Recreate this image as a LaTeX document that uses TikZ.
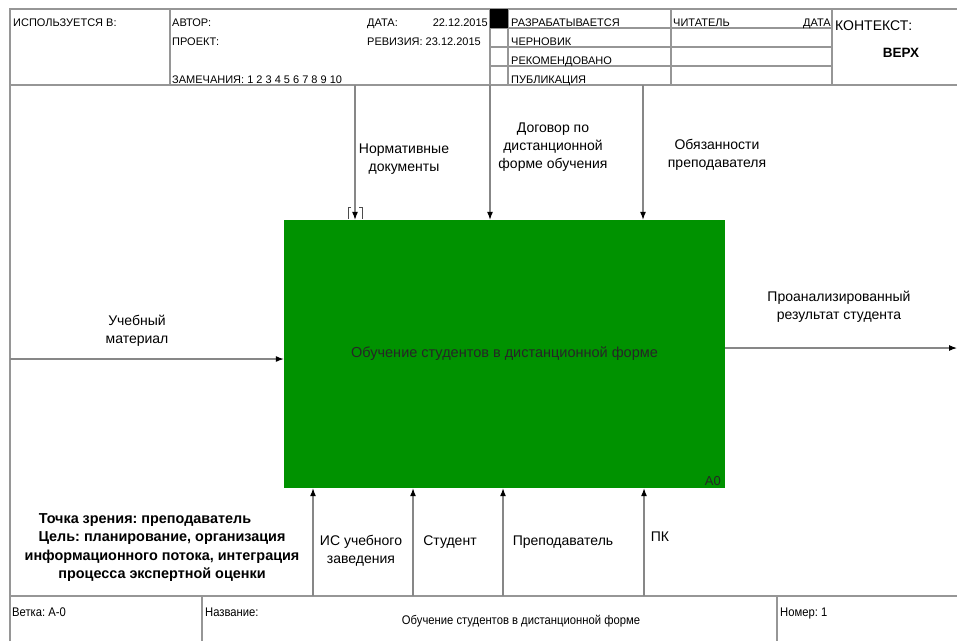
\documentclass[tikz,border=0pt]{standalone}
\usepackage{fontspec}
\setmainfont{Liberation Sans}
\newfontfamily\narrowfont[FakeStretch=0.9]{Liberation Sans}
\usetikzlibrary{arrows.meta}

\definecolor{idefgreen}{RGB}{0,146,0}
\definecolor{framegray}{RGB}{150,150,150}
\definecolor{arcgray}{RGB}{135,135,135}

\begin{document}
\frenchspacing
\begin{tikzpicture}
[x=1pt,y=-1pt,
 frame/.style={draw=framegray,line width=1.2pt},
 arc/.style={draw=arcgray,line width=1.1pt,-{Latex[length=8pt,width=6pt,color=black]}},
 hdr/.style={font=\fontsize{11}{12}\selectfont,inner sep=0pt,anchor=base west},
 lbl/.style={font=\fontsize{14}{18}\selectfont,align=center,inner sep=0pt},
 note/.style={font=\bfseries\fontsize{14.4}{18.5}\selectfont,align=center,inner sep=0pt},
 ftr/.style={font=\narrowfont\fontsize{12.5}{14}\selectfont,inner sep=0pt,anchor=base west}]
\useasboundingbox (0,0) rectangle (957,641);

% frame
\draw[frame] (10,641) -- (10,9) -- (957,9);
\draw[frame] (10,85) -- (957,85);
\draw[frame] (10,596) -- (957,596);
\foreach \x in {170,490,508,671,832} \draw[frame] (\x,9) -- (\x,85);
\foreach \y in {28,47,66} \draw[frame] (490,\y) -- (832,\y);
\fill (490,9) rectangle (508,28);
\foreach \x in {202,777} \draw[frame] (\x,596) -- (\x,641);

\node[hdr] (usedat) at (13,26) {ИСПОЛЬЗУЕТСЯ В:};
\node[hdr] (author) at (172,26) {АВТОР:};
\node[hdr] (project) at (172,45) {ПРОЕКТ:};
\node[hdr] (notes) at (172,83) {ЗАМЕЧАНИЯ: 1 2 3 4 5 6 7 8 9 10};
\node[hdr] (date) at (367,26) {ДАТА:};
\node[hdr,anchor=base east] (dateval) at (488,26) {22.12.2015};
\node[hdr] (rev) at (367,45) {РЕВИЗИЯ: 23.12.2015};
\node[hdr] (working) at (511,26) {РАЗРАБАТЫВАЕТСЯ};
\node[hdr] (draft) at (511,45) {ЧЕРНОВИК};
\node[hdr] (recom) at (511,64) {РЕКОМЕНДОВАНО};
\node[hdr] (pub) at (511,83) {ПУБЛИКАЦИЯ};
\node[hdr] (reader) at (673,26) {ЧИТАТЕЛЬ};
\node[hdr,anchor=base east] (rdate) at (831,26) {ДАТА};
\node[hdr,font=\fontsize{14}{15}\selectfont] (context) at (835,30) {КОНТЕКСТ:};
\node[hdr,anchor=center,font=\bfseries\fontsize{13.5}{14}\selectfont] (top) at (901,53) {ВЕРХ};

% activity
\node[fill=idefgreen,minimum width=441pt,minimum height=268pt,inner sep=0pt,
  text=black!85,font=\fontsize{14.5}{16}\selectfont] (a0) at (504.5,354) {Обучение студентов в дистанционной форме};
\node[inner sep=0pt,anchor=base east,text=black!85,font=\fontsize{13}{14}\selectfont] (a0num) at (721,485) {A0};

\coordinate (in) at (10,359);
\coordinate (out) at (957,348);
\coordinate (c1) at (355,85);
\coordinate (c2) at (490,85);
\coordinate (c3) at (643,85);
\coordinate (m1) at (313,596);
\coordinate (m2) at (413,596);
\coordinate (m3) at (503,596);
\coordinate (m4) at (644,596);

\draw[arc] (in) -- (in -| a0.west);
\draw[arc] (a0.east |- out) -- (out);
\foreach \c in {c1,c2,c3} \draw[arc] (\c) -- (\c |- a0.north);
\foreach \m in {m1,m2,m3,m4} \draw[arc] (\m) -- (\m |- a0.south);
% tunnel brackets
\draw[black!70,line width=0.7pt] (351,207) -| (348,219);
\draw[black!70,line width=0.7pt] (359,207) -| (362,219);

\node[lbl] (inlbl) at (137,331) {Учебный\\материал};
\node[lbl] (c1lbl) at (404,159) {Нормативные\\документы};
\node[lbl] (c2lbl) at (553,147) {Договор по\\дистанционной\\форме обучения};
\node[lbl] (c3lbl) at (717,155) {Обязанности\\преподавателя};
\node[lbl] (outlbl) at (839,307) {Проанализированный\\результат студента};
\node[lbl] (m1lbl) at (361,551) {ИС учебного\\заведения};
\node[lbl] (m2lbl) at (450,542) {Студент};
\node[lbl] (m3lbl) at (563,542) {Преподаватель};
\node[lbl] (m4lbl) at (660,537) {ПК};

\node[note] (view) at (145,520) {Точка зрения: преподаватель};
\node[note] (goal) at (162,557) {Цель: планирование, организация\\информационного потока, интеграция\\процесса экспертной оценки};

\node[ftr] (branch) at (12,616) {Ветка: А-0};
\node[ftr] (namehdr) at (205,616) {Название:};
\node[ftr,anchor=center] (title) at (521,621) {Обучение студентов в дистанционной форме};
\node[ftr] (pagenum) at (780,616) {Номер: 1};
\end{tikzpicture}
\end{document}
